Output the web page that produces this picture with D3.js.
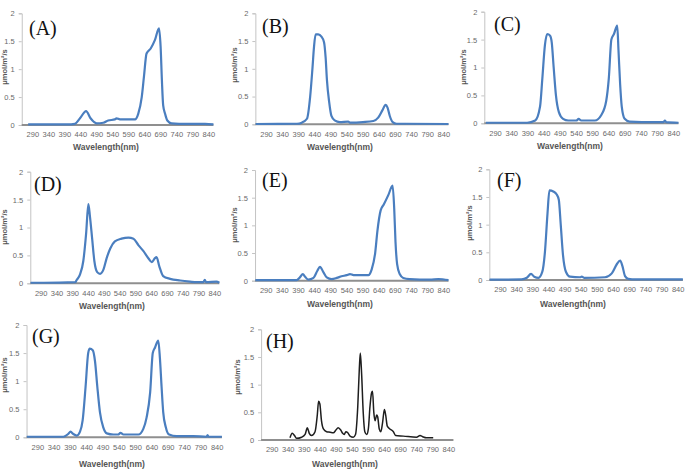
<!DOCTYPE html>
<html>
<head>
<meta charset="utf-8">
<script src="https://cdn.jsdelivr.net/npm/d3@7"></script>
<style>
  html, body { margin: 0; padding: 0; background: #fff; }
  svg { display: block; }
</style>
</head>
<body>
<svg id="chart" width="685" height="469"></svg>
<script>
// ---------- DATA ----------
const xTickLabels = [290, 340, 390, 440, 490, 540, 590, 640, 690, 740, 790, 840];
const yTickValues = [0, 0.5, 1, 1.5, 2];
const panelNames = ["(A)", "(B)", "(C)", "(D)", "(E)", "(F)", "(G)", "(H)"];
const xTitle = "Wavelength(nm)";
const yTitle = "μmol/m²/s";

const wlA = [277,300,350,400,423,439,458,472,491,512,527,548,553,564,611,621,632,639,647,660,673,686,691,695,699,705,712,725,772,830,856];
const valA = [0.01,0.01,0.01,0.01,0.02,0.12,0.25,0.12,0.03,0.04,0.08,0.1,0.12,0.1,0.1,0.2,0.5,0.87,1.28,1.37,1.52,1.73,1.4,0.8,0.35,0.2,0.08,0.03,0.02,0.02,0.01];

const wlB = [258,386,401,417,427,434,439,444,452,462,470,475,479,486,493,503,519,545,550,591,623,638,651,661,667,674,683,695,720,856];
const valB = [0.005,0.01,0.03,0.1,0.5,1.0,1.4,1.62,1.62,1.58,1.48,1.2,0.8,0.4,0.15,0.07,0.04,0.05,0.03,0.04,0.06,0.12,0.25,0.35,0.3,0.15,0.04,0.01,0.01,0.005];

const wlC = [262,372,389,414,429,436,444,451,460,465,471,478,487,500,516,541,548,556,598,618,633,641,649,657,667,671,676,681,690,705,780,810,814,818,856];
const valC = [0.01,0.01,0.01,0.05,0.3,0.8,1.4,1.6,1.57,1.45,1.0,0.5,0.2,0.08,0.05,0.05,0.08,0.05,0.05,0.15,0.4,0.8,1.5,1.6,1.75,1.3,0.7,0.3,0.08,0.03,0.02,0.02,0.05,0.02,0.01];

const wlD = [258,300,400,403,414,425,434,441,446,453,460,469,478,489,499,510,525,546,568,584,600,615,631,642,652,657,666,678,700,732,763,784,805,810,814,847,856];
const valD = [0.01,0.01,0.02,0.05,0.15,0.4,0.9,1.42,1.2,0.8,0.4,0.2,0.17,0.25,0.45,0.62,0.75,0.8,0.82,0.8,0.68,0.58,0.45,0.38,0.45,0.47,0.3,0.13,0.08,0.05,0.03,0.02,0.02,0.06,0.02,0.03,0.01];

const wlE = [258,386,396,405,412,422,438,450,458,469,479,494,510,525,541,551,562,608,618,629,636,646,656,670,683,688,692,697,705,716,736,799,825,856];
const valE = [0.01,0.01,0.06,0.12,0.07,0.02,0.05,0.18,0.25,0.15,0.06,0.03,0.05,0.08,0.1,0.12,0.1,0.1,0.2,0.5,0.9,1.27,1.38,1.55,1.72,1.3,0.7,0.3,0.12,0.05,0.03,0.02,0.03,0.01];

const wlF = [258,357,373,386,396,409,421,429,437,443,455,465,472,478,485,494,507,538,543,550,615,636,651,662,669,677,687,710,856];
const valF = [0.005,0.01,0.04,0.11,0.06,0.04,0.15,0.5,1.2,1.62,1.6,1.55,1.45,1.0,0.45,0.15,0.06,0.05,0.06,0.04,0.05,0.12,0.28,0.35,0.25,0.07,0.02,0.01,0.01];

const wlG = [258,370,385,392,400,411,421,429,438,446,451,460,467,474,482,492,503,523,538,545,554,600,615,625,636,644,651,661,666,671,676,684,694,717,768,809,812,815,856];
const valG = [0.01,0.01,0.06,0.1,0.06,0.03,0.1,0.3,0.9,1.5,1.58,1.55,1.35,0.9,0.45,0.18,0.07,0.05,0.05,0.08,0.05,0.05,0.15,0.35,0.8,1.5,1.6,1.72,1.4,0.9,0.45,0.18,0.05,0.02,0.02,0.01,0.04,0.01,0.01];

const wlH = [347,354,361,368,383,394,401,407,414,425,432,436,440,445,451,461,472,482,490,497,505,511,516,521,527,534,544,551,558,563,566,570,575,580,586,591,596,601,604,608,612,617,620,625,630,635,641,645,650,658,669,676,700,741,752,760,772,793];
const valH = [0.04,0.12,0.08,0.03,0.05,0.1,0.22,0.12,0.08,0.15,0.45,0.7,0.65,0.35,0.2,0.15,0.14,0.13,0.18,0.22,0.18,0.12,0.1,0.15,0.13,0.07,0.05,0.1,0.6,1.3,1.57,1.2,0.5,0.15,0.1,0.2,0.6,0.85,0.88,0.5,0.35,0.45,0.42,0.2,0.15,0.3,0.55,0.45,0.25,0.2,0.15,0.08,0.07,0.05,0.08,0.06,0.04,0.04];

// ---------- LAYOUT ----------
const series = [
  {wl: wlA, val: valA}, {wl: wlB, val: valB}, {wl: wlC, val: valC}, {wl: wlD, val: valD},
  {wl: wlE, val: valE}, {wl: wlF, val: valF}, {wl: wlG, val: valG}, {wl: wlH, val: valH}
];
// x290, x840, y0, y2, label pos, titles pos
const layout = [
  {x290: 32.3, x840: 208.3, y0: 125,   y2: 13.3,  lx: 29,  ly: 35,    ytx: 5,   yty: 67,  xtx: 106, xty: 148, color: "#4a7ebf"},
  {x290: 266,  x840: 443.3, y0: 124.3, y2: 13.3,  lx: 262, ly: 33,    ytx: 235, yty: 65,  xtx: 340, xty: 148, color: "#4a7ebf"},
  {x290: 495,  x840: 673.3, y0: 123.3, y2: 11.7,  lx: 494, ly: 30.5,  ytx: 464, yty: 67,  xtx: 570, xty: 147, color: "#4a7ebf"},
  {x290: 40.7, x840: 214.3, y0: 283.3, y2: 171.7, lx: 34,  ly: 190.5, ytx: 5,   yty: 227, xtx: 112, xty: 307, color: "#4a7ebf"},
  {x290: 265.7,x840: 443.3, y0: 280.7, y2: 170,   lx: 262, ly: 187,   ytx: 235, yty: 225, xtx: 340, xty: 305, color: "#4a7ebf"},
  {x290: 500,  x840: 677.7, y0: 280,   y2: 169.3, lx: 497, ly: 187,   ytx: 470, yty: 223, xtx: 573, xty: 305, color: "#4a7ebf"},
  {x290: 37.3, x840: 216.7, y0: 437.3, y2: 325,   lx: 32,  ly: 343,   ytx: 5,   yty: 375, xtx: 112, xty: 465, color: "#4a7ebf"},
  {x290: 271.7,x840: 448.3, y0: 440,   y2: 329.3, lx: 266, ly: 348,   ytx: 238, yty: 377, xtx: 345, xty: 465, color: "#1e1e1e"}
];

const svg = d3.select("#chart");
const tickFont = "'Liberation Sans', Arial, sans-serif";

layout.forEach((L, i) => {
  const S = series[i];
  const x = d3.scaleLinear().domain([290, 840]).range([L.x290, L.x840]);
  const y = d3.scaleLinear().domain([0, 2]).range([L.y0, L.y2]);
  const g = svg.append("g");
  const xStart = x(257), xEnd = x(856);

  // Y axis
  const yAx = g.append("g")
    .attr("transform", `translate(${xStart},0)`)
    .call(d3.axisLeft(y).tickValues(yTickValues).tickSize(3).tickPadding(4).tickFormat(d => String(d)));
  yAx.select(".domain").attr("stroke", "#c4c4c4").attr("stroke-width", 1);
  yAx.selectAll(".tick line").attr("stroke", "#c4c4c4");
  yAx.selectAll("text").attr("fill", "#6a6a6a").style("font-family", tickFont).style("font-size", "7.5px");

  // X axis labels
  const xAx = g.append("g")
    .attr("transform", `translate(0,${L.y0})`)
    .call(d3.axisBottom(x).tickValues(xTickLabels).tickSize(0).tickPadding(7).tickFormat(d => String(d)));
  xAx.select(".domain").remove();
  xAx.selectAll("text").attr("fill", "#6a6a6a").style("font-family", tickFont).style("font-size", "7.5px");

  // baseline
  g.append("line")
    .attr("x1", xStart).attr("x2", xEnd)
    .attr("y1", L.y0).attr("y2", L.y0)
    .attr("stroke", "#8f8f8f").attr("stroke-width", 2);

  // curve
  const pts = S.wl.map((w, k) => [w, S.val[k]]);
  const line = d3.line().x(d => x(d[0])).y(d => y(d[1])).curve(d3.curveMonotoneX);
  g.append("path")
    .datum(pts)
    .attr("d", line)
    .attr("fill", "none")
    .attr("stroke", L.color)
    .attr("stroke-width", i === 7 ? 1.5 : 2.2)
    .attr("stroke-linejoin", "round");

  // panel label
  g.append("text")
    .attr("x", L.lx).attr("y", L.ly)
    .attr("fill", "#111")
    .style("font-family", "'Liberation Serif', 'Times New Roman', serif")
    .style("font-size", "20px")
    .text(panelNames[i]);

  // x title
  g.append("text")
    .attr("x", L.xtx).attr("y", L.xty)
    .attr("text-anchor", "middle").attr("dominant-baseline", "middle")
    .attr("fill", "#555")
    .style("font-family", tickFont).style("font-weight", "bold").style("font-size", "8.5px")
    .text(xTitle);

  // y title
  g.append("text")
    .attr("transform", `translate(${L.ytx},${L.yty}) rotate(-90)`)
    .attr("text-anchor", "middle").attr("dominant-baseline", "middle")
    .attr("fill", "#555")
    .style("font-family", tickFont).style("font-weight", "bold").style("font-size", "7.5px")
    .text(yTitle);
});
</script>
</body>
</html>
